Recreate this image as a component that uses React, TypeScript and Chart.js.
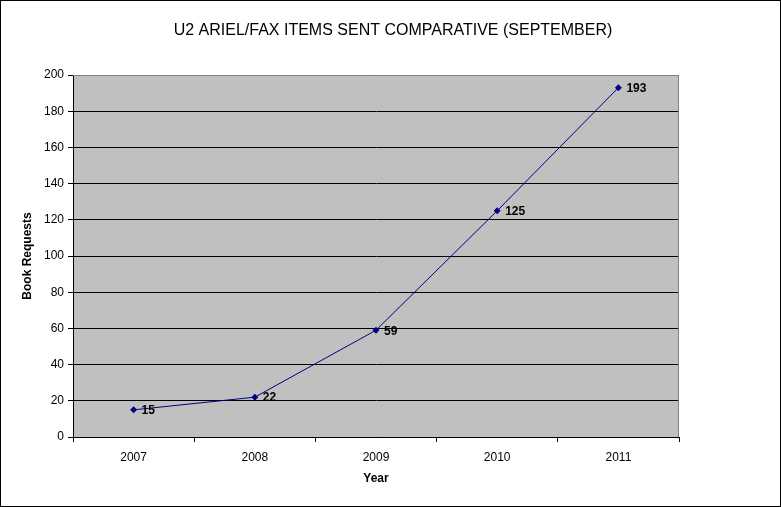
import React, { useEffect, useRef } from "react";
import { Chart, registerables } from "chart.js";

Chart.register(...registerables);

const categories = ["2007", "2008", "2009", "2010", "2011"];
const bookRequests = [15, 22, 59, 125, 193];
const yTicks = [0, 20, 40, 60, 80, 100, 120, 140, 160, 180, 200];
const titleText = "U2 ARIEL/FAX ITEMS SENT COMPARATIVE (SEPTEMBER)";
const yTitle = "Book Requests";
const xTitle = "Year";

const FONT = "'Liberation Sans', Arial, sans-serif";

const decorPlugin = {
  id: "decor",
  beforeDraw(chart: any) {
    const { ctx, chartArea, width, height } = chart;
    ctx.save();
    ctx.fillStyle = "#ffffff";
    ctx.fillRect(0, 0, width, height);
    ctx.fillStyle = "#c0c0c0";
    ctx.fillRect(chartArea.left, chartArea.top, chartArea.right - chartArea.left, chartArea.bottom - chartArea.top);
    ctx.restore();
  },
  afterDraw(chart: any) {
    const { ctx, chartArea, width, height } = chart;
    ctx.save();
    ctx.strokeStyle = "#808080";
    ctx.lineWidth = 1;
    ctx.beginPath();
    ctx.moveTo(chartArea.left, chartArea.top + 0.5);
    ctx.lineTo(chartArea.right - 0.5, chartArea.top + 0.5);
    ctx.lineTo(chartArea.right - 0.5, chartArea.bottom);
    ctx.stroke();
    ctx.strokeStyle = "#000000";
    ctx.strokeRect(0.5, 0.5, width - 1, height - 1);
    ctx.fillStyle = "#000000";
    ctx.font = `16px ${FONT}`;
    ctx.textAlign = "center";
    ctx.textBaseline = "middle";
    ctx.fillText(titleText, 393, 31);
    // axis titles
    ctx.font = `bold 12px ${FONT}`;
    ctx.fillText(xTitle, (chartArea.left + chartArea.right) / 2, 479);
    ctx.save();
    ctx.translate(28, (chartArea.top + chartArea.bottom) / 2);
    ctx.rotate(-Math.PI / 2);
    ctx.fillText(yTitle, 0, 0);
    ctx.restore();
    // data labels
    const meta = chart.getDatasetMeta(0);
    ctx.textAlign = "left";
    meta.data.forEach((pt: any, i: number) => {
      ctx.fillText(String(bookRequests[i]), pt.x + 8, pt.y + 1);
    });
    ctx.restore();
  },
};

export default function App() {
  const ref = useRef<HTMLCanvasElement>(null);
  useEffect(() => {
    document.body.style.margin = "0";
    const chart = new Chart(ref.current!, {
      type: "line",
      data: {
        labels: categories,
        datasets: [
          {
            data: bookRequests,
            borderColor: "#000080",
            backgroundColor: "#000080",
            borderWidth: 1,
            pointStyle: "rectRot",
            pointRadius: 3.5,
            pointBorderWidth: 0,
            tension: 0,
          },
        ],
      },
      options: {
        responsive: false,
        animation: false,
        devicePixelRatio: 1,
        layout: { padding: { top: 75, right: 102, left: 0, bottom: 0 } },
        plugins: { legend: { display: false }, tooltip: { enabled: false }, title: { display: false } },
        scales: {
          x: {
            offset: true,
            afterFit: (s: any) => {
              s.height = 70;
            },
            grid: { drawOnChartArea: false, drawTicks: true, tickLength: 5, color: "#000000", offset: true },
            border: { color: "#000000", width: 1 },
            ticks: { color: "#000000", font: { family: FONT, size: 12 }, padding: 8 },
          },
          y: {
            min: 0,
            max: 200,
            afterFit: (s: any) => {
              s.width = 73;
            },
            afterBuildTicks: (s: any) => {
              s.ticks = yTicks.map((v) => ({ value: v }));
            },
            grid: { color: "#000000", tickLength: 5, drawTicks: true },
            border: { color: "#000000", width: 1 },
            ticks: { color: "#000000", font: { family: FONT, size: 12 }, padding: 4 },
          },
        },
      },
      plugins: [decorPlugin],
    });
    return () => chart.destroy();
  }, []);
  return <canvas ref={ref} width={781} height={507} style={{ display: "block" }} />;
}
